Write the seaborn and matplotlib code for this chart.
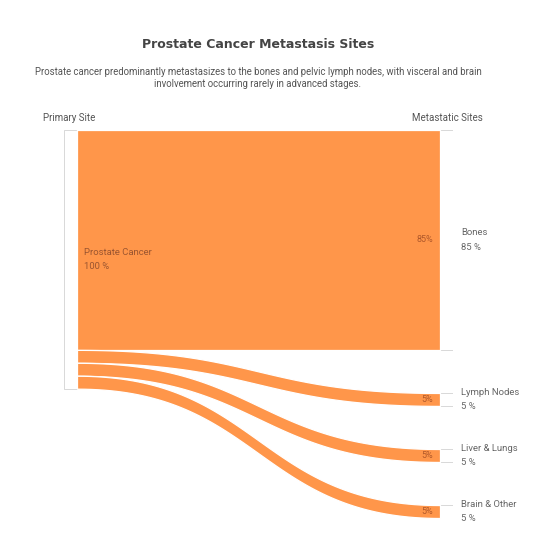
import numpy as np
import matplotlib
matplotlib.use("Agg")
import matplotlib.pyplot as plt
import seaborn as sns

sns.set_style("white")
plt.rcParams['font.family'] = ['Roboto', 'DejaVu Sans']

# dados do diagrama
origem = "Prostate Cancer"
destinos = ["Bones", "Lymph Nodes", "Liver & Lungs", "Brain & Other"]
valores = [85, 5, 5, 5]

titulo = "Prostate Cancer Metastasis Sites"
subtitulo = ("Prostate cancer predominantly metastasizes to the bones and pelvic lymph nodes, with visceral and brain\n"
             "involvement occurring rarely in advanced stages.")

corFluxo = "#FF964A"
corTextoFluxo = "#B0582A"
corNo = "#D8D8D8"


def curvaBezier(y0, y1, x0, x1, n=80):
    """Curva cúbica com pontos de controle no meio (estilo sankey)"""
    s = np.linspace(0, 1, n)
    xs = x0 + (x1 - x0) * (1.5 * s - 1.5 * s ** 2 + s ** 3)
    ys = y0 + (y1 - y0) * (3 * s ** 2 - 2 * s ** 3)
    return xs, ys


def criarSankey():
    fig = plt.figure(figsize=(5.6, 5.6), dpi=100)
    ax = fig.add_axes([64 / 560, 42 / 560, 389 / 560, 388 / 560])
    ax.set_axis_off()

    total = sum(valores)
    gap = total * 0.5 / (len(destinos) - 1)
    altura = total + gap * (len(destinos) - 1)
    larguraNo = 13 / 389

    ax.set_xlim(0, 1)
    ax.set_ylim(altura, 0)

    # nó de origem
    ax.add_patch(plt.Rectangle((0, 0), larguraNo, total, facecolor="white",
                               edgecolor=corNo, linewidth=0.7, zorder=1))

    yOrigem = 0
    yDestino = 0
    x0, x1 = larguraNo, 1 - larguraNo
    for nome, v in zip(destinos, valores):
        xs, topo = curvaBezier(yOrigem, yDestino, x0, x1)
        _, base = curvaBezier(yOrigem + v, yDestino + v, x0, x1)
        ax.fill_between(xs, topo, base, color=corFluxo, edgecolor="white",
                        linewidth=0.9, zorder=2)

        # nó de destino
        ax.add_patch(plt.Rectangle((1 - larguraNo, yDestino), larguraNo, v,
                                   facecolor="white", edgecolor=corNo,
                                   linewidth=0.7, zorder=1))

        pct = v / total * 100
        ax.text(x1 - 7 / 389, yDestino + v / 2, f"{pct:.0f}%", ha="right",
                va="center", fontsize=6.5, color=corTextoFluxo, zorder=3)
        ax.text(1 + 8 / 389, yDestino + v / 2, f"{nome}\n{pct:.0f} %",
                ha="left", va="center", fontsize=6.8, color="#666666",
                linespacing=1.75, zorder=3)

        yOrigem += v
        yDestino += v + gap

    ax.text(larguraNo + 7 / 389, total / 2, f"{origem}\n100 %", ha="left",
            va="center", fontsize=6.8, color="#9A5530", linespacing=1.75,
            zorder=3)

    fig.text(258 / 560, 1 - 44 / 560, titulo, ha="center", va="center",
             fontsize=9, fontweight="bold", color="#444444",
             family=["DejaVu Sans"])
    fig.text(258 / 560, 1 - 78 / 560, subtitulo, ha="center", va="center",
             fontsize=6.9, color="#555555", linespacing=1.3)
    fig.text(43 / 560, 1 - 118 / 560, "Primary Site", ha="left", va="center",
             fontsize=7, color="#555555")
    fig.text(483 / 560, 1 - 118 / 560, "Metastatic Sites", ha="right",
             va="center", fontsize=7, color="#555555")

    fig.savefig("out.png", dpi=100, facecolor="white")


def main():
    criarSankey()


if __name__ == "__main__":
    main()
